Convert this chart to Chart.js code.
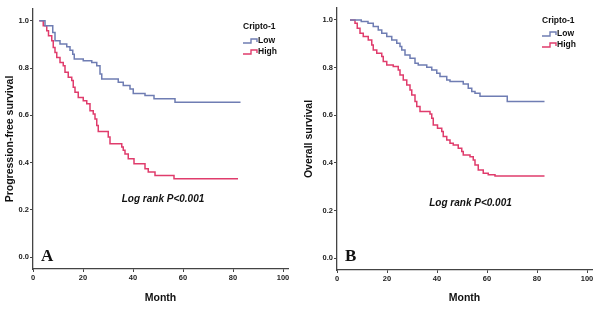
<!DOCTYPE html>
<html>
<head>
<meta charset="utf-8">
<script src="https://cdn.jsdelivr.net/npm/chart.js@4/dist/chart.umd.min.js"></script>
<style>
  body { margin: 0; background: #fff; }
  .wrap { display: flex; width: 600px; height: 311px; }
  .panel { position: relative; width: 300px; height: 311px; }
</style>
</head>
<body>
<div class="wrap">
  <div class="panel"><canvas id="pfsChart" width="300" height="311"></canvas></div>
  <div class="panel"><canvas id="osChart" width="300" height="311"></canvas></div>
</div>
<script>
// Kaplan-Meier step data (month, survival after each drop)
const pfsLowMonths = [2.5, 4.8, 7.9, 8.8, 10.8, 13.5, 14.8, 15.9, 16.5, 20.1, 23.5, 25.5, 26.8, 27.5, 34.1, 36.1, 38.8, 40.1, 44.8, 48.4, 56.8, 83];
const pfsLowSurv = [1.0, 0.979, 0.951, 0.916, 0.902, 0.89, 0.875, 0.859, 0.838, 0.831, 0.824, 0.81, 0.775, 0.754, 0.74, 0.726, 0.712, 0.693, 0.684, 0.67, 0.655, 0.655];

const pfsHighMonths = [2.5, 4.1, 5.5, 6.2, 7.5, 8.1, 8.8, 9.5, 10.8, 12.1, 12.8, 14.1, 15.5, 16.1, 16.8, 18.1, 20.1, 21.5, 22.8, 24.1, 24.8, 25.5, 26.1, 30.1, 30.8, 35.5, 36.1, 36.8, 38.1, 40.4, 44.8, 46.1, 48.8, 56.4, 82];
const pfsHighSurv = [1.0, 0.979, 0.958, 0.937, 0.916, 0.887, 0.866, 0.845, 0.824, 0.81, 0.782, 0.761, 0.747, 0.719, 0.698, 0.676, 0.662, 0.649, 0.62, 0.606, 0.585, 0.557, 0.532, 0.508, 0.48, 0.466, 0.452, 0.437, 0.416, 0.395, 0.374, 0.36, 0.346, 0.332, 0.332];

const osLowMonths = [5.2, 9.7, 12.4, 14.5, 16.5, 17.9, 19.9, 21.9, 23.9, 25.2, 25.9, 27.2, 29.2, 31.2, 32.5, 35.9, 37.9, 39.9, 41.2, 43.9, 45.2, 50.5, 52.5, 53.9, 55.2, 57.2, 68.1, 83];
const osLowSurv = [1.0, 0.993, 0.986, 0.972, 0.958, 0.944, 0.93, 0.916, 0.902, 0.888, 0.874, 0.853, 0.839, 0.818, 0.811, 0.801, 0.79, 0.776, 0.762, 0.748, 0.741, 0.731, 0.713, 0.699, 0.692, 0.68, 0.657, 0.657];

const osHighMonths = [5.2, 7.2, 8.1, 9.2, 10.5, 12.5, 13.9, 14.5, 15.9, 17.9, 18.5, 19.9, 22.5, 24.5, 25.2, 26.5, 27.9, 29.2, 29.9, 31.2, 31.9, 33.2, 37.2, 37.9, 38.5, 40.2, 41.9, 42.5, 43.9, 45.2, 46.5, 48.5, 49.9, 50.5, 53.2, 54.5, 55.2, 56.5, 58.5, 60.5, 63.2, 83];
const osHighSurv = [1.0, 0.986, 0.965, 0.944, 0.93, 0.916, 0.895, 0.874, 0.86, 0.846, 0.825, 0.811, 0.804, 0.79, 0.769, 0.748, 0.727, 0.706, 0.685, 0.657, 0.636, 0.615, 0.605, 0.587, 0.559, 0.545, 0.531, 0.51, 0.496, 0.482, 0.475, 0.461, 0.447, 0.433, 0.426, 0.412, 0.391, 0.37, 0.356, 0.35, 0.345, 0.345];

const xTicks = [0, 20, 40, 60, 80, 100];
const yTicks = [0.0, 0.2, 0.4, 0.6, 0.8, 1.0];
const groupLabels = ['Low', 'High'];
const legendTitle = 'Cripto-1';
const pText = 'Log rank P<0.001';

const LOW_COLOR = '#6f7db3';
const HIGH_COLOR = '#e03c6c';
const AXIS_COLOR = '#444';
const SANS = '"Liberation Sans", Arial, sans-serif';

function toPoints(months, surv) {
    return months.map((m, i) => ({ x: m, y: surv[i] }));
}

function stepIcon(ctx, x, y, color) {
    ctx.save();
    ctx.strokeStyle = color;
    ctx.lineWidth = 1.4;
    ctx.beginPath();
    ctx.moveTo(x, y + 2);
    ctx.lineTo(x + 8, y + 2);
    ctx.lineTo(x + 8, y - 2);
    ctx.lineTo(x + 14, y - 2);
    ctx.lineTo(x + 14, y + 1);
    ctx.stroke();
    ctx.restore();
}

// draws the legend, p-value note and panel letter
function annotations(opts) {
    return {
        id: 'annotations',
        afterDraw(chart) {
            const ctx = chart.ctx;
            const xs = chart.scales.x;
            const ys = chart.scales.y;
            ctx.save();
            ctx.fillStyle = '#111';
            ctx.textBaseline = 'middle';

            // legend
            ctx.font = 'bold 8.5px ' + SANS;
            ctx.textAlign = 'left';
            ctx.fillText(legendTitle, opts.legendX, opts.legendY);
            stepIcon(ctx, opts.legendX, opts.legendY + opts.gap1, LOW_COLOR);
            ctx.fillText(groupLabels[0], opts.legendX + 15, opts.legendY + opts.gap1);
            stepIcon(ctx, opts.legendX, opts.legendY + opts.gap2, HIGH_COLOR);
            ctx.fillText(groupLabels[1], opts.legendX + 15, opts.legendY + opts.gap2);

            // log rank note
            ctx.font = 'italic bold 10px ' + SANS;
            ctx.textAlign = 'center';
            ctx.fillText(pText, xs.getPixelForValue(opts.noteX), ys.getPixelForValue(opts.noteY));

            // panel letter
            ctx.font = 'bold 17px "Liberation Serif", "Times New Roman", serif';
            ctx.textAlign = 'left';
            ctx.textBaseline = 'alphabetic';
            ctx.fillText(opts.letter, opts.letterX, opts.letterY);
            ctx.restore();
        }
    };
}

function makeChart(canvasId, low, high, opts) {
    const ctx = document.getElementById(canvasId).getContext('2d');
    return new Chart(ctx, {
        type: 'line',
        data: {
            datasets: [{
                label: groupLabels[0],
                data: low,
                borderColor: LOW_COLOR,
                borderWidth: 1.5,
                stepped: 'before',
                pointRadius: 0,
                fill: false
            }, {
                label: groupLabels[1],
                data: high,
                borderColor: HIGH_COLOR,
                borderWidth: 1.5,
                stepped: 'before',
                pointRadius: 0,
                fill: false
            }]
        },
        options: {
            responsive: false,
            animation: false,
            layout: { padding: { top: opts.padTop, right: opts.padRight, left: 0, bottom: 0 } },
            plugins: {
                legend: { display: false },
                tooltip: { enabled: false }
            },
            scales: {
                x: {
                    type: 'linear',
                    min: 0,
                    max: 102,
                    afterBuildTicks: (s) => { s.ticks = xTicks.map(v => ({ value: v })); },
                    afterFit: (s) => { s.height = opts.xHeight; },
                    grid: { drawOnChartArea: false, drawTicks: true, tickLength: 3, color: AXIS_COLOR },
                    border: { display: true, color: AXIS_COLOR, width: 1.3 },
                    ticks: {
                        padding: 1,
                        color: '#222',
                        font: { family: SANS, size: 7.5, weight: 'bold' },
                        maxRotation: 0
                    },
                    title: {
                        display: true,
                        text: 'Month',
                        color: '#111',
                        font: { family: SANS, size: 10.5, weight: 'bold' },
                        padding: { top: 0, bottom: 7 }
                    }
                },
                y: {
                    min: -0.05,
                    max: 1.05,
                    afterBuildTicks: (s) => { s.ticks = yTicks.map(v => ({ value: v })); },
                    afterFit: (s) => { s.width = opts.yWidth; },
                    grid: { drawOnChartArea: false, drawTicks: true, tickLength: 3, color: AXIS_COLOR },
                    border: { display: true, color: AXIS_COLOR, width: 1.3 },
                    ticks: {
                        padding: 1,
                        color: '#222',
                        font: { family: SANS, size: 7.5, weight: 'bold' },
                        callback: (v) => Number(v).toFixed(1)
                    },
                    title: {
                        display: true,
                        text: opts.yTitle,
                        color: '#111',
                        font: { family: SANS, size: 10.5, weight: 'bold' },
                        padding: { top: opts.yTitlePad, bottom: 0 }
                    }
                }
            }
        },
        plugins: [annotations(opts)]
    });
}

makeChart('pfsChart', toPoints(pfsLowMonths, pfsLowSurv), toPoints(pfsHighMonths, pfsHighSurv), {
    yTitle: 'Progression-free survival',
    padTop: 9, padRight: 12, yWidth: 33, xHeight: 42, yTitlePad: 3.5,
    legendX: 243, legendY: 27, gap1: 14, gap2: 25,
    noteX: 52, noteY: 0.245,
    letter: 'A', letterX: 41, letterY: 261
});

makeChart('osChart', toPoints(osLowMonths, osLowSurv), toPoints(osHighMonths, osHighSurv), {
    yTitle: 'Overall survival',
    padTop: 8, padRight: 8, yWidth: 37, xHeight: 41, yTitlePad: 3,
    legendX: 242, legendY: 21, gap1: 13, gap2: 24,
    noteX: 53.4, noteY: 0.231,
    letter: 'B', letterX: 45, letterY: 261
});
</script>
</body>
</html>
